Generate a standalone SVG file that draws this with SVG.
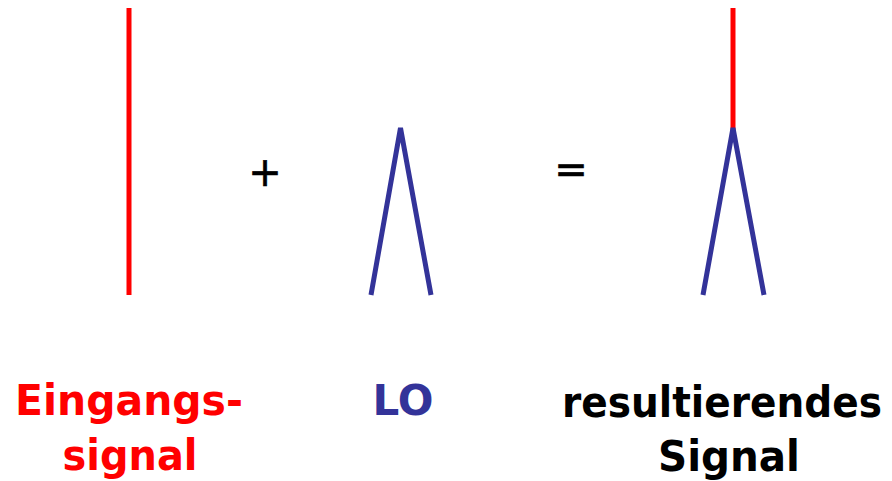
<svg xmlns="http://www.w3.org/2000/svg" width="892" height="481" viewBox="0 0 892 481">
<style>
.lbl{font-family:"DejaVu Sans","Liberation Sans",sans-serif;font-weight:bold;font-size:43px;text-anchor:middle}
.op{font-family:"DejaVu Sans","Liberation Sans",sans-serif;font-size:40px;text-anchor:middle;fill:#000;stroke:#000;stroke-width:0.6}
.red{stroke:#ff0000;stroke-width:5;fill:none}
.blue{stroke:#333399;stroke-width:5;fill:none}
</style>
<rect width="892" height="481" fill="#fff"/>
<g id="eingang">
<line class="red" x1="129" y1="8" x2="129" y2="295"/>
<text class="lbl" fill="#ff0000" x="129" y="415" textLength="228" lengthAdjust="spacingAndGlyphs">Eingangs-</text>
<text class="lbl" fill="#ff0000" x="130" y="470" textLength="135" lengthAdjust="spacingAndGlyphs">signal</text>
</g>
<g id="plus"><text class="op" x="265" y="186">+</text></g>
<g id="lo">
<polyline class="blue" points="371,295 400.5,128 431,295"/>
<text class="lbl" fill="#333399" x="403" y="415" textLength="61" lengthAdjust="spacingAndGlyphs">LO</text>
</g>
<g id="equals"><text class="op" x="571" y="183">=</text></g>
<g id="result">
<line class="red" x1="733" y1="8" x2="733" y2="130"/>
<polyline class="blue" points="703,295 733,128 764,295"/>
<text class="lbl" fill="#000" x="722" y="417" font-size="39" textLength="320" lengthAdjust="spacingAndGlyphs">resultierendes</text>
<text class="lbl" fill="#000" x="729" y="471" textLength="142" lengthAdjust="spacingAndGlyphs">Signal</text>
</g>
</svg>
